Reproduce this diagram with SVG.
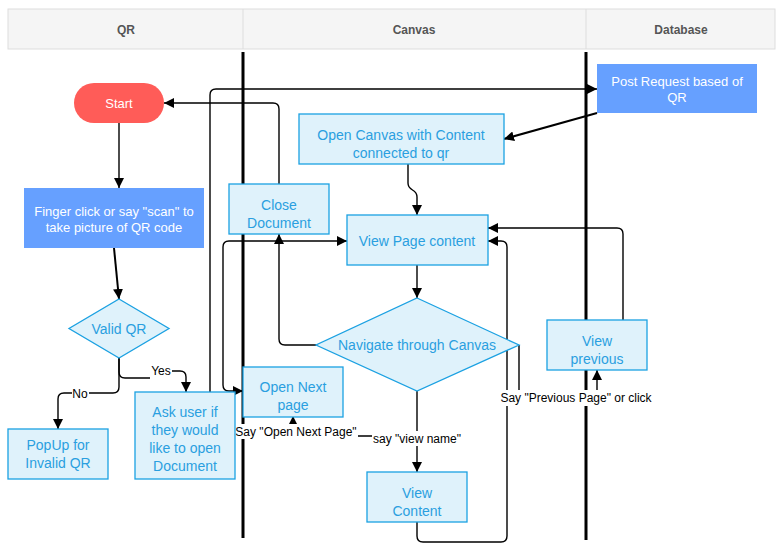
<svg xmlns="http://www.w3.org/2000/svg" width="777" height="549" viewBox="0 0 777 549">
<style>
.hdr{fill:#f5f5f5;stroke:#dddddd;stroke-width:1}
.htxt{font-family:"Liberation Sans",Arial,sans-serif;font-size:12px;font-weight:bold;fill:#555555;text-anchor:middle}
.lane{stroke:#000000;stroke-width:3}
.box{fill:#dff2fb;stroke:#1ba1e2;stroke-width:1.3}
.txt{font-family:"Liberation Sans",Arial,sans-serif;font-size:14px;fill:#2a9fe0;text-anchor:middle}
.wtxt{font-family:"Liberation Sans",Arial,sans-serif;font-size:13px;fill:#ffffff;text-anchor:middle}
.blue{fill:#66a0ff}
.edge{fill:none;stroke:#000000;stroke-width:1.4}
.edge2{fill:none;stroke:#000000;stroke-width:2}
.lbl{font-family:"Liberation Sans",Arial,sans-serif;font-size:12px;fill:#000000;text-anchor:middle}
.lblbg{fill:#ffffff}
</style>
<defs>
<marker id="arr" viewBox="0 0 10 10" refX="10" refY="5" markerWidth="10" markerHeight="10" markerUnits="userSpaceOnUse" orient="auto-start-reverse">
<path d="M0,0 L10,5 L0,10 z" fill="#000000"/>
</marker>
</defs>
<rect width="777" height="549" fill="#ffffff"/>
<g id="header">
<rect class="hdr" x="8" y="9" width="767" height="40"/>
<line x1="243" y1="9" x2="243" y2="49" stroke="#dddddd"/>
<line x1="586" y1="9" x2="586" y2="49" stroke="#dddddd"/>
<text class="htxt" x="126" y="34">QR</text>
<text class="htxt" x="414" y="34">Canvas</text>
<text class="htxt" x="681" y="34">Database</text>
</g>
<g id="lanes">
<line class="lane" x1="243" y1="52" x2="243" y2="538"/>
<line class="lane" x1="586" y1="52" x2="586" y2="540"/>
</g>
<g id="connectors">
<path class="edge" d="M119,123 V188" marker-end="url(#arr)"/>
<path class="edge2" d="M114,248 L119,299" marker-end="url(#arr)"/>
<path class="edge" d="M119,358 V372 Q119,378 125,378 H158 V371 H180 Q186,371 186,377 V392" marker-end="url(#arr)"/>
<path class="edge" d="M119,358 V387 Q119,393 113,393 H64 Q58,393 58,399 V429" marker-end="url(#arr)"/>
<path class="edge" d="M210,392 V95 Q210,89 216,89 H597" marker-end="url(#arr)"/>
<path class="edge2" d="M597,113 L504,139" marker-end="url(#arr)"/>
<path class="edge" d="M408,164 V183 C408,192 417,188 417,197 V215" marker-end="url(#arr)"/>
<path class="edge" d="M279,184 V109 Q279,103 273,103 H164" marker-end="url(#arr)"/>
<path class="edge" d="M243,391 H229 Q223,391 223,385 V247 Q223,241 229,241 H347" marker-start="url(#arr)" marker-end="url(#arr)"/>
<path class="edge" d="M417,265 V298" marker-end="url(#arr)"/>
<path class="edge" d="M316,345 H285 Q279,345 279,339 V234" marker-end="url(#arr)"/>
<path class="edge" d="M417,391 V472" marker-end="url(#arr)"/>
<path class="edge" d="M417,436 H293 V416" marker-end="url(#arr)"/>
<path class="edge" d="M519,345 V398 H597 V370" marker-end="url(#arr)"/>
<path class="edge" d="M623,320 V234 Q623,228 617,228 H488" marker-end="url(#arr)"/>
<path class="edge" d="M417,522 V536 Q417,542 423,542 H501 Q507,542 507,536 V247 Q507,241 501,241 H488" marker-end="url(#arr)"/>
<g id="edge-labels">
<rect class="lblbg" x="150" y="363" width="22" height="17"/>
<text class="lbl" x="161" y="375">Yes</text>
<rect class="lblbg" x="72" y="386" width="17" height="15"/>
<text class="lbl" x="80" y="398">No</text>
<rect class="lblbg" x="234" y="424" width="124" height="15"/>
<text class="lbl" x="296" y="436">Say "Open Next Page"</text>
<rect class="lblbg" x="372" y="431" width="91" height="15"/>
<text class="lbl" x="417" y="443">say "view name"</text>
<rect class="lblbg" x="499" y="390" width="154" height="16"/>
<text class="lbl" x="576" y="402">Say "Previous Page" or click</text>
</g>
</g>
<g id="start">
<rect x="74" y="83" width="90" height="40" rx="20" fill="#ff5c58"/>
<text class="wtxt" x="119" y="108">Start</text>
</g>
<g id="finger">
<rect class="blue" x="24" y="188" width="180" height="60"/>
<text class="wtxt" x="114" y="216">Finger click or say "scan" to</text>
<text class="wtxt" x="114" y="232">take picture of QR code</text>
</g>
<g id="valid-qr">
<polygon class="box" points="119,299 169,328.5 119,358 69,328.5"/>
<text class="txt" x="119" y="334">Valid QR</text>
</g>
<g id="popup">
<rect class="box" x="8" y="429" width="100" height="50"/>
<text class="txt" x="58" y="450">PopUp for</text>
<text class="txt" x="58" y="468">Invalid QR</text>
</g>
<g id="ask-user">
<rect class="box" x="135" y="392" width="100" height="87"/>
<text class="txt" x="185" y="417">Ask user if</text>
<text class="txt" x="185" y="435">they would</text>
<text class="txt" x="185" y="453">like to open</text>
<text class="txt" x="185" y="471">Document</text>
</g>
<g id="close-document">
<rect class="box" x="229" y="184" width="100" height="50"/>
<text class="txt" x="279" y="210">Close</text>
<text class="txt" x="279" y="228">Document</text>
</g>
<g id="open-canvas">
<rect class="box" x="299" y="114" width="205" height="50"/>
<text class="txt" x="401" y="140">Open Canvas with Content</text>
<text class="txt" x="401" y="158">connected to qr</text>
</g>
<g id="view-page">
<rect class="box" x="347" y="215" width="141" height="50"/>
<text class="txt" x="417" y="246">View Page content</text>
</g>
<g id="navigate">
<polygon class="box" points="417,298 519,345 417,391 316,345"/>
<text class="txt" x="417" y="350">Navigate through Canvas</text>
</g>
<g id="open-next">
<rect class="box" x="243" y="367" width="100" height="50"/>
<text class="txt" x="293" y="392">Open Next</text>
<text class="txt" x="293" y="410">page</text>
</g>
<g id="view-content">
<rect class="box" x="367" y="472" width="100" height="50"/>
<text class="txt" x="417" y="498">View</text>
<text class="txt" x="417" y="516">Content</text>
</g>
<g id="view-previous">
<rect class="box" x="547" y="320" width="100" height="50"/>
<text class="txt" x="597" y="346">View</text>
<text class="txt" x="597" y="364">previous</text>
</g>
<g id="post-request">
<rect class="blue" x="597" y="64" width="160" height="49"/>
<text class="wtxt" x="677" y="86">Post Request based of</text>
<text class="wtxt" x="677" y="102">QR</text>
</g>
</svg>
